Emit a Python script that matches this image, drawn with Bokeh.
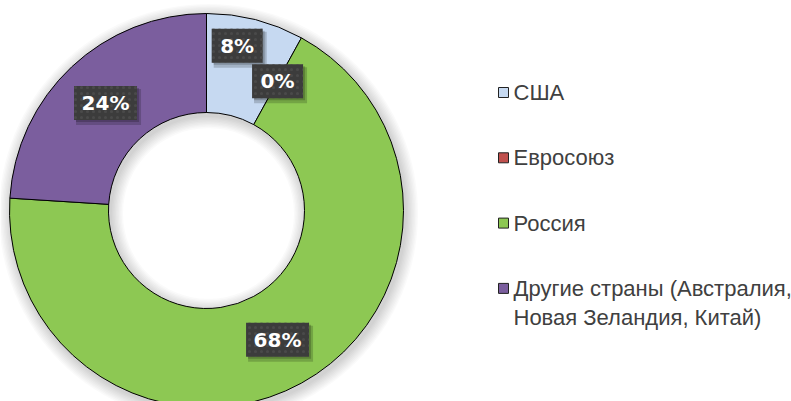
import math
from bokeh.plotting import figure
from bokeh.models import Range1d
from bokeh.core.properties import value
from bokeh.embed import file_html
from bokeh.resources import INLINE

# ---- data ----
categories = ["США", "Евросоюз", "Россия", "Другие страны (Австралия,\nНовая Зеландия, Китай)"]
shares = [8, 0, 68, 24]
colors = ["#C6D9F1", "#C0504D", "#8DC853", "#7B5E9E"]
labels = [f"{v}%" for v in shares]

# ---- layout / style ----
W, H = 791, 401
CX, CY = 206, 401 - 210
R_OUT, R_IN = 197, 98
label_nudge = {0: (-6, 22)}

p = figure(width=W, height=H, output_backend="svg", toolbar_location=None,
           x_range=Range1d(0, W), y_range=Range1d(0, H),
           x_axis_type=None, y_axis_type=None, min_border=0)
p.grid.visible = False
p.outline_line_color = None
p.background_fill_color = "white"
p.border_fill_color = "white"

# soft shadow
for k in range(1, 10):
    p.annulus(x=CX + 2, y=CY - 3, inner_radius=R_IN - 1.4 * k, outer_radius=R_OUT + 1.4 * k,
              fill_color="black", fill_alpha=0.018, line_color=None)

# wedges
total = sum(shares)
cum = 0.0
starts, ends, mids = [], [], []
for v in shares:
    a0 = math.pi / 2 - 2 * math.pi * cum / total
    cum += v
    a1 = math.pi / 2 - 2 * math.pi * cum / total
    starts.append(a0)
    ends.append(a1)
    mids.append((a0 + a1) / 2)

idx = [i for i, v in enumerate(shares) if v > 0]
p.annular_wedge(x=CX, y=CY, inner_radius=R_IN, outer_radius=R_OUT,
                start_angle=[starts[i] for i in idx], end_angle=[ends[i] for i in idx],
                direction="clock", fill_color=[colors[i] for i in idx],
                line_color="black", line_width=1)

# data labels
r_mid = (R_IN + R_OUT) / 2
lx, ly, lw = [], [], []
for i, v in enumerate(shares):
    dx, dy = label_nudge.get(i, (0, 0))
    lx.append(CX + r_mid * math.cos(mids[i]) + dx)
    ly.append(CY + r_mid * math.sin(mids[i]) + dy)
    lw.append(12 * len(labels[i]) + 27)

p.rect(x=[x + 3 for x in lx], y=[y - 4 for y in ly], width=[w + 2 for w in lw], height=36,
       fill_color="black", fill_alpha=0.18, line_color=None)
p.rect(x=[x + 2 for x in lx], y=[y - 2 for y in ly], width=lw, height=34,
       fill_color="black", fill_alpha=0.2, line_color=None)
p.rect(x=lx, y=ly, width=lw, height=34, fill_color="#3c3c3c", line_color=None,
       hatch_pattern="dot", hatch_color="#4a4a4a", hatch_scale=6)
p.text(x=lx, y=ly, text=labels, text_color="white", text_font=value("DejaVu Sans"),
       text_font_style="bold", text_font_size="20px", text_align="center",
       text_baseline="middle")

# legend
LEG_X, LEG_Y0, LEG_DY, LINE_DY = 503, 401 - 92, 65.3, 29
sq_x, sq_y, tx, ty, tt = [], [], [], [], []
for i, name in enumerate(categories):
    y0 = LEG_Y0 - LEG_DY * i
    sq_x.append(LEG_X)
    sq_y.append(y0)
    for j, line in enumerate(name.split("\n")):
        tx.append(LEG_X + 10)
        ty.append(y0 - LINE_DY * j)
        tt.append(line)
p.rect(x=sq_x, y=sq_y, width=10, height=10, fill_color=colors, line_color="#222222", line_width=1)
p.text(x=tx, y=ty, text=tt, text_color="#404040", text_font=value("Liberation Sans"),
       text_font_size="22px", text_align="left", text_baseline="middle")

open("out.html", "w").write(file_html(p, INLINE))
